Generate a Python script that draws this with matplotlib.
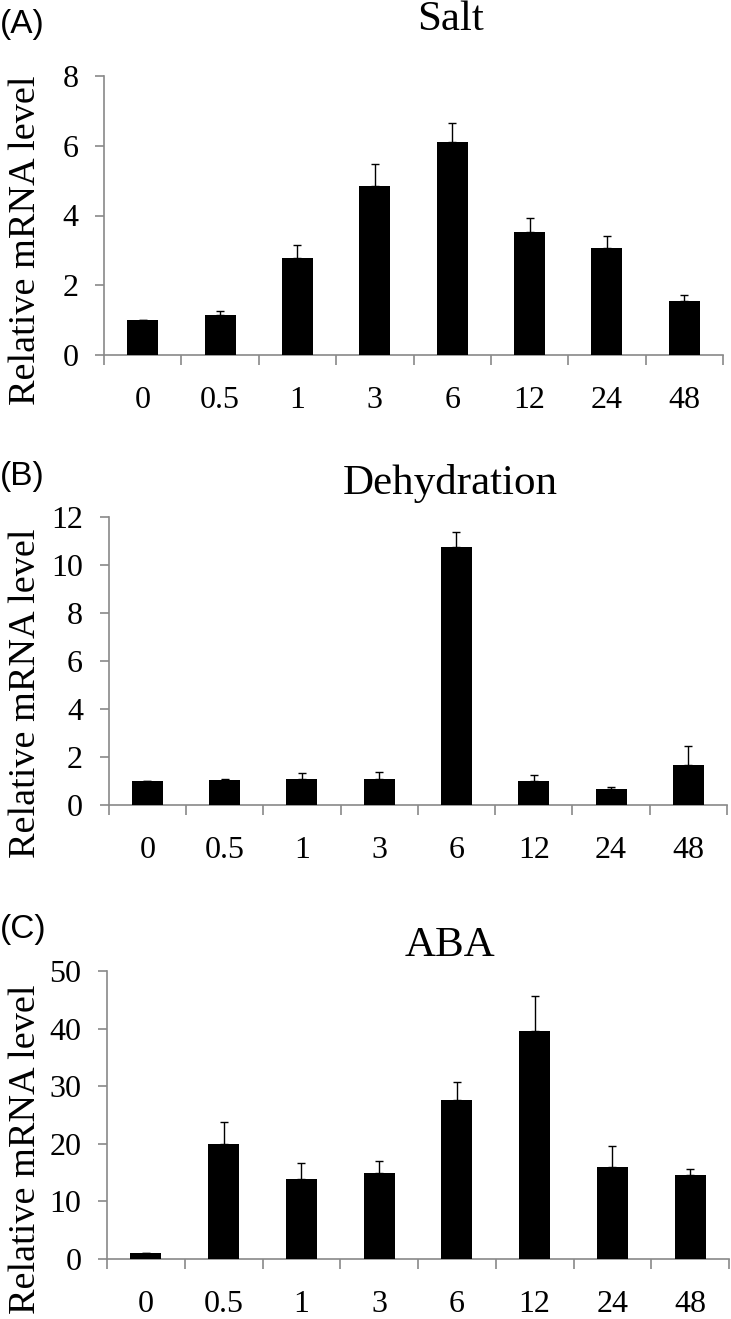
import matplotlib
matplotlib.use('Agg')
import matplotlib.pyplot as plt
import numpy as np

# time points (h)
hours = ['0', '0.5', '1', '3', '6', '12', '24', '48']

# panel values (mean, upper error bar end)
salt_mean = [1.0, 1.14, 2.78, 4.86, 6.10, 3.54, 3.06, 1.56]
salt_top = [1.0, 1.27, 3.16, 5.49, 6.66, 3.93, 3.42, 1.72]

dehyd_mean = [1.0, 1.04, 1.09, 1.09, 10.73, 1.0, 0.66, 1.65]
dehyd_top = [1.0, 1.07, 1.34, 1.38, 11.38, 1.26, 0.75, 2.45]

aba_mean = [1.0, 20.0, 13.96, 14.99, 27.6, 39.5, 16.03, 14.6]
aba_top = [1.0, 23.7, 16.7, 17.07, 30.7, 45.6, 19.7, 15.7]

W, H = 731, 1319
SERIF = 'Liberation Serif'
SANS = 'Liberation Sans'
GREY = '#898989'

fig = plt.figure(figsize=(W / 100, H / 100), dpi=100)


def px_axes(left, right, top, bottom):
    return fig.add_axes([left / W, 1 - bottom / H, (right - left) / W, (bottom - top) / H])


def panel(rect, mean, top, ymax, ystep, title, tag, tag_base, title_base, label_y):
    ax = px_axes(*rect)
    n = len(hours)
    x = np.arange(n) + 0.5
    mean = np.array(mean)
    err = np.array(top) - mean
    ax.bar(x, mean, width=0.4, color='black', zorder=3)
    ax.errorbar(x, mean, yerr=[np.zeros(n), err], fmt='none', ecolor='black',
                elinewidth=1.0, capsize=3, capthick=1.0, zorder=4)
    ax.set_xlim(0, n)
    ax.set_ylim(0, ymax)
    for s in ['top', 'right']:
        ax.spines[s].set_visible(False)
    for s in ['left', 'bottom']:
        ax.spines[s].set_color(GREY)
        ax.spines[s].set_linewidth(1.2)
    ticks = np.arange(0, ymax + 0.01, ystep)
    ax.set_yticks(ticks)
    ax.set_yticklabels([f'{v:g}' for v in ticks])
    ax.tick_params(axis='y', direction='out', length=6.5, width=1.2, color=GREY,
                   pad=12, labelsize=23)
    # category boundaries as major ticks, labels at minor ticks
    ax.set_xticks(np.arange(0, n + 1))
    ax.set_xticklabels([])
    ax.set_xticks(x, minor=True)
    ax.set_xticklabels(hours, minor=True)
    ax.tick_params(axis='x', which='major', direction='out', length=7, width=1.2, color=GREY)
    ax.tick_params(axis='x', which='minor', length=0, pad=22, labelsize=23)
    for lab in ax.get_xticklabels(minor=True) + ax.get_yticklabels():
        lab.set_family(SERIF)
    fig.text(450 / W, 1 - title_base / H, title, family=SERIF, fontsize=31,
             ha='center', va='baseline')
    fig.text(0, 1 - tag_base / H, tag, family=SANS, fontsize=24, ha='left', va='baseline')
    fig.text(26 / W, 1 - label_y / H, 'Relative mRNA level', family=SERIF,
             fontsize=27.5, rotation=90, ha='center', va='center')
    return ax


panel((104, 723, 76, 355), salt_mean, salt_top, 8, 2, 'Salt', '(A)', 33, 30, 240)
panel((108.7, 727, 517, 805), dehyd_mean, dehyd_top, 12, 2, 'Dehydration', '(B)', 485, 494, 693)
panel((107, 729, 971, 1259), aba_mean, aba_top, 50, 10, 'ABA', '(C)', 938, 956, 1149)

fig.savefig('out.png', dpi=100)
